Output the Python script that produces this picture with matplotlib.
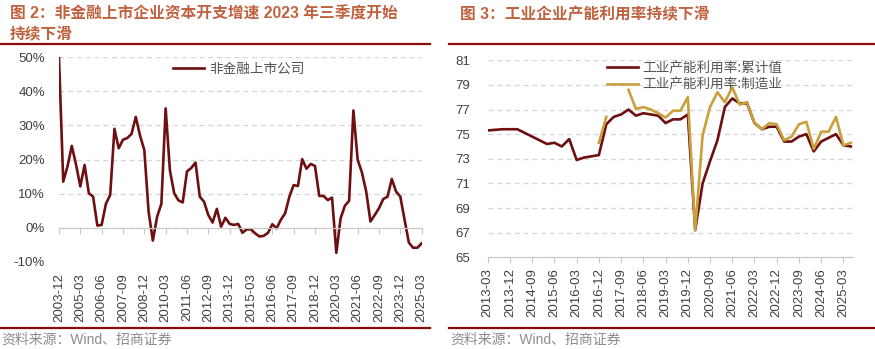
import matplotlib
matplotlib.use("Agg")
import matplotlib.pyplot as plt
from matplotlib.lines import Line2D
import numpy as np
import pandas as pd

plt.rcParams['font.family'] = ['Liberation Sans', 'Noto Sans CJK SC']

# capex growth of non-financial listed companies, quarterly from 2003-12 (%)
capex_start = "2003Q4"
capex_growth = [50.0, 13.5, 18.0, 24.0, 18.5, 12.1, 18.4, 10.1, 9.1, 0.6,
                0.8, 7.0, 9.6, 29.0, 23.3, 25.8, 26.3, 27.5, 32.5, 27.0,
                22.8, 4.7, -3.8, 3.2, 7.0, 35.0, 16.8, 10.1, 8.0, 7.4,
                16.5, 17.5, 19.1, 9.1, 7.6, 3.7, 1.5, 5.5, 0.3, 2.9,
                1.1, 0.8, 1.1, -1.5, -0.5, -0.5, -1.7, -2.6, -2.4, -1.5,
                1.0, -0.2, 2.3, 4.2, 9.1, 12.5, 12.2, 20.1, 17.3, 18.7,
                18.1, 9.3, 9.3, 8.1, 8.8, -7.4, 2.7, 6.4, 7.9, 34.4,
                19.9, 16.2, 10.6, 1.8, 3.7, 5.7, 8.4, 9.1, 14.3, 10.6,
                9.1, 2.3, -4.4, -5.9, -5.9, -4.6]

# capacity utilisation, quarterly from 2013-03 (%)
util_start = "2013Q1"
util_total = [75.3, 75.35, 75.4, 75.4, 75.4, 75.1, 74.8, 74.5, 74.2, 74.3,
              74.0, 74.6, 72.9, 73.1, 73.2, 73.3, 75.8, 76.4, 76.6, 77.0,
              76.5, 76.7, 76.6, 76.5, 75.9, 76.2, 76.2, 76.6, 67.2, 71.0,
              72.8, 74.5, 77.2, 77.9, 77.5, 77.5, 75.9, 75.4, 75.6, 75.6,
              74.4, 74.4, 74.8, 75.0, 73.6, 74.4, 74.7, 75.0, 74.1, 74.0]
nan = np.nan
util_manu = [nan] * 15 + [74.3, 76.4, nan, nan, 78.6,
             77.05, 77.2, 77.0, 76.7, 76.35, 76.9, 76.9, 78.0, 67.2, 74.9,
             77.2, 78.4, 77.6, 78.8, 77.4, 77.6, 75.9, 75.4, 75.9, 75.8,
             74.5, 74.8, 75.8, 76.0, 73.8, 75.2, 75.2, 76.4, 74.1, 74.3]

title_left = ["图 2：非金融上市企业资本开支增速 2023 年三季度开始", "持续下滑"]
title_right = "图 3：工业企业产能利用率持续下滑"
source = "资料来源：Wind、招商证券"
label_capex = "非金融上市公司"
label_total = "工业产能利用率:累计值"
label_manu = "工业产能利用率:制造业"

DARK = "#6E0F12"
GOLD = "#C9A03A"
TITLE_C = "#C0623F"
RULE_C = "#8B0A0A"
GRID_C = "#D6D6D6"
TEXT_C = "#404040"


def quarter_labels(start, n):
    periods = pd.period_range(start, periods=n, freq="Q")
    return [f"{p.year}-{p.quarter * 3:02d}" for p in periods]


def style_axes(ax):
    for s in ["top", "right", "left"]:
        ax.spines[s].set_visible(False)
    ax.spines["bottom"].set_color("#C8C8C8")
    ax.grid(axis="y", color=GRID_C, linestyle=(0, (4, 3)), linewidth=0.9)
    ax.set_axisbelow(True)
    ax.tick_params(axis="y", length=0, labelsize=9.5, labelcolor=TEXT_C)
    ax.tick_params(axis="x", length=4, color="#C8C8C8", direction="out",
                   labelsize=9.5, labelcolor=TEXT_C, labelrotation=90)


fig = plt.figure(figsize=(8.75, 3.49), dpi=100)

# ---- left panel
ax1 = fig.add_axes([0.0674, 0.2501, 0.4145, 0.5857])
x1 = np.arange(len(capex_growth))
lab1 = quarter_labels(capex_start, len(capex_growth))
ax1.plot(x1, capex_growth, color=DARK, linewidth=1.9, label=label_capex)
ax1.set_xlim(0, len(capex_growth) - 1)
ax1.set_ylim(-10, 50)
ax1.set_yticks(range(-10, 51, 10))
ax1.set_yticklabels([f"{v}%" for v in range(-10, 51, 10)])
style_axes(ax1)
ax1.spines["bottom"].set_position(("data", 0))
ax1.set_xticks(x1[::5])
ax1.set_xticklabels(lab1[::5], va="top")
ax1.tick_params(axis="x", pad=29)
ax1.tick_params(axis="y", pad=10)
ax1.legend(loc="upper left", bbox_to_anchor=(0.314, 0.98), frameon=False,
           borderpad=0, borderaxespad=0, handlelength=2.3, handletextpad=0.4,
           prop={"family": ["Noto Sans CJK SC"], "size": 9.8}, labelcolor="#555555")

# ---- right panel
ax2 = fig.add_axes([0.5574, 0.2628, 0.4175, 0.5645])
x2 = np.arange(len(util_total))
lab2 = quarter_labels(util_start, len(util_total))
ax2.plot(x2, util_total, color=DARK, linewidth=1.9, label=label_total)
ax2.plot(x2, util_manu, color=GOLD, linewidth=1.9, label=label_manu)
ax2.set_xlim(0, 49.3)
ax2.set_ylim(65, 81)
ax2.set_yticks(range(65, 82, 2))
style_axes(ax2)
ax2.set_xticks(x2[::3])
ax2.set_xticklabels(lab2[::3], va="top")
ax2.tick_params(axis="x", pad=4)
ax2.tick_params(axis="y", pad=12.5)
ax2.legend(loc="upper left", bbox_to_anchor=(0.326, 0.995), frameon=False,
           borderpad=0, borderaxespad=0, handlelength=2.3, handletextpad=0.3,
           labelspacing=0.2,
           prop={"family": ["Noto Sans CJK SC"], "size": 9.8}, labelcolor="#555555")

# ---- titles, rules, sources
tfam = ["Liberation Sans", "Noto Sans CJK SC"]
fig.text(10 / 875, 1 - 14 / 349, title_left[0], color=TITLE_C, fontsize=11.3,
         fontweight="bold", family=tfam, va="center", ha="left")
fig.text(10 / 875, 1 - 34 / 349, title_left[1], color=TITLE_C, fontsize=11.3,
         fontweight="bold", family=tfam, va="center", ha="left")
fig.text(460 / 875, 1 - 14 / 349, title_right, color=TITLE_C, fontsize=11.3,
         fontweight="bold", family=tfam, va="center", ha="left")

for x0, x1_ in [(0, 430), (449, 875)]:
    fig.add_artist(Line2D([x0 / 875, x1_ / 875], [1 - 44 / 349] * 2,
                          color=RULE_C, linewidth=1.6))
    fig.add_artist(Line2D([x0 / 875, x1_ / 875], [1 - 328 / 349] * 2,
                          color=RULE_C, linewidth=1.6))

fig.text(1 / 875, 1 - 340 / 349, source, color="#8C8C8C", fontsize=10,
         family=tfam, va="center", ha="left")
fig.text(450 / 875, 1 - 340 / 349, source, color="#8C8C8C", fontsize=10,
         family=tfam, va="center", ha="left")

fig.savefig("out.png", dpi=100)
